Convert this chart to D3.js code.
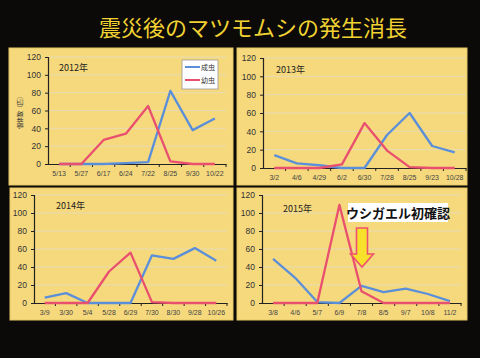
<!DOCTYPE html>
<html><head><meta charset="utf-8">
<script src="https://cdn.jsdelivr.net/npm/d3@7"></script>
<style>
html,body{margin:0;padding:0;background:#0b0a08;}
svg{display:block;}
</style></head>
<body>
<svg id="c" width="480" height="358"></svg>
<script>
const title = "震災後のマツモムシの発生消長";
const seriesNames = ["成虫", "幼虫"];
const yTicks = [0, 20, 40, 60, 80, 100, 120];

const cats2012 = ["5/13","5/27","6/17","6/24","7/22","8/25","9/30","10/22"];
const adult2012 = [0, 0, 0, 1, 2, 82, 38, 51];
const larva2012 = [0, 0, 27, 34, 65, 3, 0, 0];

const cats2013 = ["3/2","4/6","4/29","6/2","6/30","7/28","8/25","9/23","10/28"];
const adult2013 = [14, 5, 3, 0, 0, 36, 60, 24, 17];
const larva2013 = [0, 0, 0, 4, 49, 19, 1, 0, 0];

const cats2014 = ["3/9","3/30","5/4","5/28","6/29","7/30","8/30","9/28","10/26"];
const adult2014 = [6, 11, 0, 0, 0, 53, 49, 61, 47];
const larva2014 = [0, 0, 0, 35, 56, 1, 0, 0, 0];

const cats2015 = ["3/8","4/6","5/7","6/9","7/8","8/5","9/7","10/8","11/2"];
const adult2015 = [49, 28, 1, 0, 19, 12, 16, 10, 2];
const larva2015 = [0, 0, 0, 109, 13, 0, 0, 0, 0];

const yearLabels = ["2012年","2013年","2014年","2015年"];
const yLabel = "個体数（匹）";
const note = "ウシガエル初確認";

const svg = d3.select("#c");
const BLUE = "#5b8fd9", RED = "#e9506f";

svg.append("text").attr("x", 253).attr("y", 36).attr("text-anchor","middle")
  .attr("font-family","'Noto Sans CJK JP'").attr("font-size",22).attr("fill","#f1d232")
  .text(title);

const panels = [
  {cats:cats2012, a:adult2012, l:larva2012, yr:yearLabels[0], box:[9,48,224,137], ax:[48,226], ay:[164,57], yl:[59,71], legend:true, ylab:true},
  {cats:cats2013, a:adult2013, l:larva2013, yr:yearLabels[1], box:[237,48,230,137], ax:[263,466], ay:[168,58], yl:[276,73]},
  {cats:cats2014, a:adult2014, l:larva2014, yr:yearLabels[2], box:[10,188,223,132], ax:[34,227], ay:[303,195], yl:[56,209]},
  {cats:cats2015, a:adult2015, l:larva2015, yr:yearLabels[3], box:[237,188,230,132], ax:[262,461], ay:[303,195], yl:[283,212], note:true}
];

panels.forEach(p => {
  const g = svg.append("g");
  g.append("rect").attr("x",p.box[0]).attr("y",p.box[1]).attr("width",p.box[2]).attr("height",p.box[3])
    .attr("fill","#f6d97d").attr("stroke","#e7c865").attr("stroke-width",1);
  const x = d3.scaleBand().domain(p.cats).range(p.ax);
  const y = d3.scaleLinear().domain([0,120]).range(p.ay);
  // grid
  g.selectAll(".grid").data(yTicks.filter(t=>t>0)).join("line")
    .attr("x1",p.ax[0]).attr("x2",p.ax[1]).attr("y1",d=>y(d)).attr("y2",d=>y(d))
    .attr("stroke","#e6dcb4").attr("stroke-width",1);
  // y axis
  const ya = g.append("g").attr("transform",`translate(${p.ax[0]},0)`)
    .call(d3.axisLeft(y).tickValues(yTicks).tickSize(3).tickPadding(4));
  ya.select(".domain").attr("stroke","#222").attr("stroke-width",1.2);
  ya.selectAll(".tick line").attr("stroke","#222");
  ya.selectAll("text").attr("font-family","'Liberation Sans'").attr("font-size",8.5).attr("fill","#333");
  // x axis
  const xa = g.append("g").attr("transform",`translate(0,${p.ay[0]})`)
    .call(d3.axisBottom(x).tickSize(0).tickPadding(7));
  xa.select(".domain").attr("stroke","#222").attr("stroke-width",1.2);
  xa.selectAll("text").attr("font-family","'Liberation Sans'").attr("font-size",7).attr("fill","#444");
  g.selectAll(".xt").data(p.cats.slice(1).concat([null])).join("line")
    .attr("x1",(d,i)=>x(p.cats[i])+x.bandwidth()).attr("x2",(d,i)=>x(p.cats[i])+x.bandwidth())
    .attr("y1",p.ay[0]).attr("y2",p.ay[0]+3).attr("stroke","#222");
  const line = d3.line().x((d,i)=>x(p.cats[i])+x.bandwidth()/2).y(d=>y(d));
  g.append("path").datum(p.a).attr("d",line).attr("fill","none").attr("stroke",BLUE).attr("stroke-width",2.3).attr("stroke-linejoin","round");
  g.append("path").datum(p.l).attr("d",line).attr("fill","none").attr("stroke",RED).attr("stroke-width",2.3).attr("stroke-linejoin","round");
  g.append("text").attr("x",p.yl[0]).attr("y",p.yl[1]).attr("font-family","'Noto Sans CJK JP'").attr("font-size",9).attr("fill","#222").text(p.yr);
  if (p.legend) {
    const lg = g.append("g");
    lg.append("rect").attr("x",182).attr("y",60).attr("width",36).attr("height",29).attr("fill","#fff").attr("stroke","#999").attr("stroke-width",0.8);
    [BLUE, RED].forEach((c,i)=>{
      const yy = 67 + i*13;
      lg.append("line").attr("x1",185).attr("x2",200).attr("y1",yy).attr("y2",yy).attr("stroke",c).attr("stroke-width",2);
      lg.append("text").attr("x",201).attr("y",yy+3).attr("font-family","'Noto Sans CJK JP'").attr("font-size",7).attr("fill","#333").text(seriesNames[i]);
    });
  }
  if (p.ylab) {
    g.append("text").attr("transform","translate(22,111) rotate(-90)").attr("text-anchor","middle")
      .attr("font-family","'Noto Sans CJK JP'").attr("font-size",6).attr("fill","#333").text(yLabel);
  }
  if (p.note) {
    g.append("rect").attr("x",348).attr("y",203).attr("width",100).attr("height",19).attr("fill","#fff");
    g.append("text").attr("x",398).attr("y",218).attr("text-anchor","middle")
      .attr("font-family","'Noto Sans CJK JP'").attr("font-weight","bold").attr("font-size",13).attr("fill","#111").text(note);
    const ax = 362, top = 228;
    const pts = [[ax-5.5,top],[ax+5.5,top],[ax+5.5,top+26],[ax+11.5,top+26],[ax,top+39],[ax-11.5,top+26],[ax-5.5,top+26]];
    g.append("path").attr("d", d3.line()(pts)+"Z").attr("fill","#f7e12a").attr("stroke","#ef5070").attr("stroke-width",1.6);
  }
});
</script>
</body></html>
